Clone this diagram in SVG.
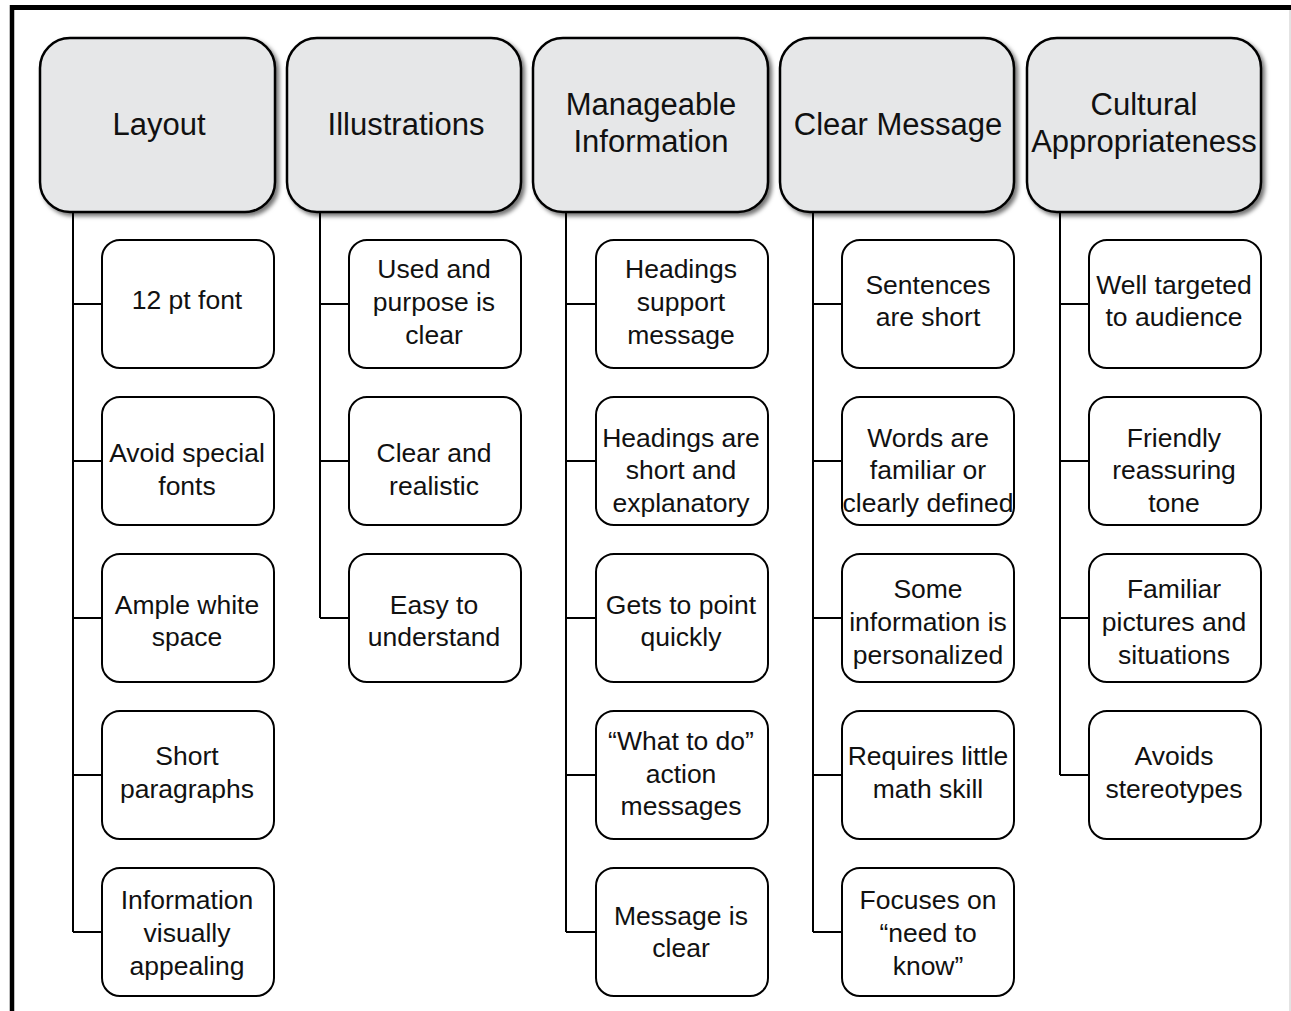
<svg xmlns="http://www.w3.org/2000/svg" width="1291" height="1011" viewBox="0 0 1291 1011">
<style>
.hd{fill:#e6e7e8;stroke:#000;stroke-width:2.5;filter:url(#sh)}
.ch{fill:#fff;stroke:#000;stroke-width:2}
.ht{font-family:"Liberation Sans",Arial,sans-serif;font-size:31px;fill:#111;text-anchor:middle}
.ct{font-family:"Liberation Sans",Arial,sans-serif;font-size:26.5px;fill:#111;text-anchor:middle}
.cn{fill:none;stroke:#000;stroke-width:2}
</style>
<defs>
<filter id="sh" x="-10%" y="-10%" width="130%" height="130%">
<feDropShadow dx="3" dy="3" stdDeviation="2" flood-color="#000" flood-opacity="0.55"/>
</filter>
</defs>
<rect width="1291" height="1011" fill="#fff"/>
<g id="frame">
<line x1="10" y1="7.5" x2="1291" y2="7.5" stroke="#000" stroke-width="5"/>
<line x1="12" y1="5" x2="12" y2="1011" stroke="#000" stroke-width="4.5"/>
<line x1="1290" y1="10" x2="1290" y2="1011" stroke="#c8c8c8" stroke-width="1"/>
</g>
<g id="connectors">
<path class="cn" d="M73 212V932M73 304H102M73 461H102M73 618H102M73 775H102M73 932H102"/>
<path class="cn" d="M320 212V618M320 304H349M320 461H349M320 618H349"/>
<path class="cn" d="M566 212V932M566 304H596M566 461H596M566 618H596M566 775H596M566 932H596"/>
<path class="cn" d="M813 212V932M813 304H842M813 461H842M813 618H842M813 775H842M813 932H842"/>
<path class="cn" d="M1060 212V775M1060 304H1089M1060 461H1089M1060 618H1089M1060 775H1089"/>
</g>
<g id="h-layout"><rect class="hd" x="40" y="38" width="235" height="174" rx="30"/><text class="ht" x="159" y="135">Layout</text></g>
<g id="h-illustrations"><rect class="hd" x="287" y="38" width="234" height="174" rx="30"/><text class="ht" x="406" y="135">Illustrations</text></g>
<g id="h-manageable"><rect class="hd" x="533" y="38" width="235" height="174" rx="30"/><text class="ht" x="651" y="115">Manageable</text><text class="ht" x="651" y="152">Information</text></g>
<g id="h-clear"><rect class="hd" x="780" y="38" width="234" height="174" rx="30"/><text class="ht" x="898" y="135">Clear Message</text></g>
<g id="h-cultural"><rect class="hd" x="1027" y="38" width="234" height="174" rx="30"/><text class="ht" x="1144" y="115">Cultural</text><text class="ht" x="1144" y="152">Appropriateness</text></g>

<g id="c1-1"><rect class="ch" x="102" y="240" width="172" height="128" rx="18"/><text class="ct" x="187" y="309">12 pt font</text></g>
<g id="c1-2"><rect class="ch" x="102" y="397" width="172" height="128" rx="18"/><text class="ct" x="187" y="462">Avoid special</text><text class="ct" x="187" y="495">fonts</text></g>
<g id="c1-3"><rect class="ch" x="102" y="554" width="172" height="128" rx="18"/><text class="ct" x="187" y="614">Ample white</text><text class="ct" x="187" y="646">space</text></g>
<g id="c1-4"><rect class="ch" x="102" y="711" width="172" height="128" rx="18"/><text class="ct" x="187" y="765">Short</text><text class="ct" x="187" y="798">paragraphs</text></g>
<g id="c1-5"><rect class="ch" x="102" y="868" width="172" height="128" rx="18"/><text class="ct" x="187" y="909">Information</text><text class="ct" x="187" y="942">visually</text><text class="ct" x="187" y="975">appealing</text></g>

<g id="c2-1"><rect class="ch" x="349" y="240" width="172" height="128" rx="18"/><text class="ct" x="434" y="278">Used and</text><text class="ct" x="434" y="311">purpose is</text><text class="ct" x="434" y="344">clear</text></g>
<g id="c2-2"><rect class="ch" x="349" y="397" width="172" height="128" rx="18"/><text class="ct" x="434" y="462">Clear and</text><text class="ct" x="434" y="495">realistic</text></g>
<g id="c2-3"><rect class="ch" x="349" y="554" width="172" height="128" rx="18"/><text class="ct" x="434" y="614">Easy to</text><text class="ct" x="434" y="646">understand</text></g>

<g id="c3-1"><rect class="ch" x="596" y="240" width="172" height="128" rx="18"/><text class="ct" x="681" y="278">Headings</text><text class="ct" x="681" y="311">support</text><text class="ct" x="681" y="344">message</text></g>
<g id="c3-2"><rect class="ch" x="596" y="397" width="172" height="128" rx="18"/><text class="ct" x="681" y="447">Headings are</text><text class="ct" x="681" y="479">short and</text><text class="ct" x="681" y="512">explanatory</text></g>
<g id="c3-3"><rect class="ch" x="596" y="554" width="172" height="128" rx="18"/><text class="ct" x="681" y="614">Gets to point</text><text class="ct" x="681" y="646">quickly</text></g>
<g id="c3-4"><rect class="ch" x="596" y="711" width="172" height="128" rx="18"/><text class="ct" x="681" y="750">“What to do”</text><text class="ct" x="681" y="783">action</text><text class="ct" x="681" y="815">messages</text></g>
<g id="c3-5"><rect class="ch" x="596" y="868" width="172" height="128" rx="18"/><text class="ct" x="681" y="925">Message is</text><text class="ct" x="681" y="957">clear</text></g>

<g id="c4-1"><rect class="ch" x="842" y="240" width="172" height="128" rx="18"/><text class="ct" x="928" y="294">Sentences</text><text class="ct" x="928" y="326">are short</text></g>
<g id="c4-2"><rect class="ch" x="842" y="397" width="172" height="128" rx="18"/><text class="ct" x="928" y="447">Words are</text><text class="ct" x="928" y="479">familiar or</text><text class="ct" x="928" y="512">clearly defined</text></g>
<g id="c4-3"><rect class="ch" x="842" y="554" width="172" height="128" rx="18"/><text class="ct" x="928" y="598">Some</text><text class="ct" x="928" y="631">information is</text><text class="ct" x="928" y="664">personalized</text></g>
<g id="c4-4"><rect class="ch" x="842" y="711" width="172" height="128" rx="18"/><text class="ct" x="928" y="765">Requires little</text><text class="ct" x="928" y="798">math skill</text></g>
<g id="c4-5"><rect class="ch" x="842" y="868" width="172" height="128" rx="18"/><text class="ct" x="928" y="909">Focuses on</text><text class="ct" x="928" y="942">“need to</text><text class="ct" x="928" y="975">know”</text></g>

<g id="c5-1"><rect class="ch" x="1089" y="240" width="172" height="128" rx="18"/><text class="ct" x="1174" y="294">Well targeted</text><text class="ct" x="1174" y="326">to audience</text></g>
<g id="c5-2"><rect class="ch" x="1089" y="397" width="172" height="128" rx="18"/><text class="ct" x="1174" y="447">Friendly</text><text class="ct" x="1174" y="479">reassuring</text><text class="ct" x="1174" y="512">tone</text></g>
<g id="c5-3"><rect class="ch" x="1089" y="554" width="172" height="128" rx="18"/><text class="ct" x="1174" y="598">Familiar</text><text class="ct" x="1174" y="631">pictures and</text><text class="ct" x="1174" y="664">situations</text></g>
<g id="c5-4"><rect class="ch" x="1089" y="711" width="172" height="128" rx="18"/><text class="ct" x="1174" y="765">Avoids</text><text class="ct" x="1174" y="798">stereotypes</text></g>
</svg>
